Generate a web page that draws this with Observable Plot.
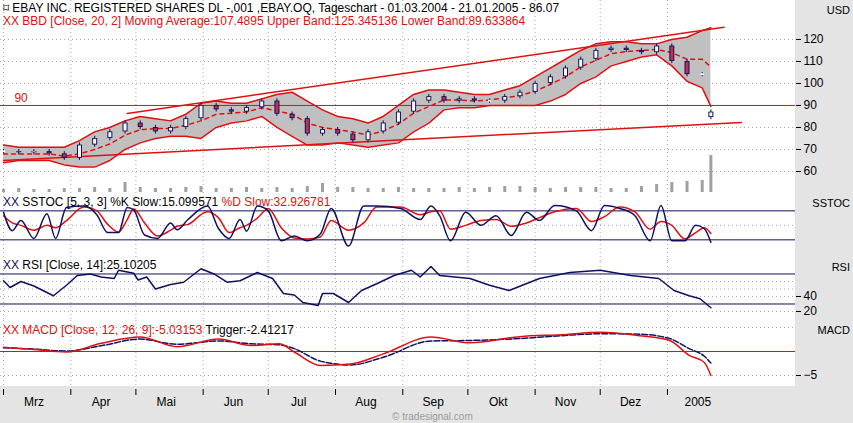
<!DOCTYPE html>
<html><head><meta charset="utf-8">
<script src="https://cdn.jsdelivr.net/npm/d3@7"></script>
<script src="https://cdn.jsdelivr.net/npm/@observablehq/plot@0.6"></script>
<style>
body{margin:0;background:#fff;font-family:"Liberation Sans",Arial,sans-serif;}
#c{position:relative;width:853px;height:423px;overflow:hidden;background:#fff}
.abs{position:absolute}
.t{position:absolute;font-size:12px;white-space:nowrap;line-height:12px}
svg{overflow:visible}
</style></head><body>
<div id="c">
<div class="abs" style="left:795px;top:0;width:58px;height:423px;background:#e4e4e4"></div>
<div class="abs" style="left:0;top:386px;width:853px;height:37px;background:#e4e4e4"></div>
</div>
<script>
// ---- data ----
const priceClose=[69,68.5,69,68,66,72,75,78,82,80,78,80,84,90,88,87,89,92,86,84,77,79,77,74,78,82,87,92,94,92,93,92,92,94,96,100,103,107,111,115,116,115,114,117,110,104,104,87];
const priceOpen=[69,69,68.5,69,68,66,72,75,78,82,80,78,80,84,90,88,87,89,92,86,84,77,79,77,74,78,82,87,92,94,92,93,92,92,94,96,100,103,107,111,115,116,115,114,117,110,104,84.5];
const bandUpper=[72,71,71,71,71,74,78,80,83,85,84,83,86,91,92,91,91,93,95,96,92,88,85,84,82,85,90,95,97,97,96,95,95,97,99,103,107,111,115,118,119,119,118,118,120,121,124,125.3];
const bandLower=[64,65,65,65,63,62,62,65,70,73,75,76,76,75,80,82,83,85,80,76,72,72,73,72,71,72,73,78,82,88,89,89,90,90,90,90,92,95,100,103,108,110,112,113,108,101,98,89.6];
const volume=[3,4,3,3,4,4,5,4,10,5,4,4,5,6,4,4,5,4,5,4,6,9,5,5,4,4,5,4,4,4,5,4,5,6,6,5,4,5,5,5,4,4,6,8,10,11,12,37];
const upperTrendDay=[57,332], upperTrendVal=[86.4,125.5];
const lowerTrendDay=[0,340], lowerTrendVal=[65,82.3];
const stochDay=[0,4,8,14,20,24,29,37,43,48,53,57,60,65,71,77,80,85,94,99,104,109,112,117,122,128,134,140,146,151,159,166,172,183,192,197,201,206,213,220,227,234,241,247,254,264,271,277,284,291,298,303,308,314,319,323,326];
const stochK=[77,39,60,23,74,23,87,90,72,35,35,87,82,30,23,55,41,62,90,44,23,62,38,90,80,18,28,18,32,85,7,90,90,85,62,90,70,18,77,50,70,29,77,60,91,80,39,91,85,70,18,91,18,18,50,43,15];
const stochD=[70,55,50,40,50,45,60,88,80,52,36,62,84,55,28,40,48,52,78,66,35,45,50,65,85,45,24,22,26,60,40,55,88,88,72,78,80,42,50,60,62,48,55,66,78,85,58,68,88,78,42,58,50,22,35,45,33];
const rsiDay=[0,3,8,14,23,29,34,40,45,51,53,60,62,66,70,77,83,91,97,103,109,117,124,129,134,138,145,147,152,159,165,172,180,188,192,197,201,215,224,233,247,261,275,289,302,309,316,321,326];
const rsiVal=[61,52,60,54,41,55,68,70,66,64,75,71,62,66,50,56,59,77,70,59,61,72,64,44,42,32,28,44,44,32,48,57,68,75,66,80,68,64,55,48,64,72,75,68,64,48,41,37,25];
const macdDay=[0,14,29,45,63,80,99,114,127,134,146,160,175,197,215,238,257,275,293,307,316,323,326];
const macdVal=[0.9,0.4,-0.1,1.7,3.0,1.0,2.6,1.25,1.6,-0.1,-2.9,-2.6,-0.5,3.0,1.8,3.1,3.5,4.0,3.3,2.3,-0.8,-2.3,-5.0];
const trigVal=[0.8,0.5,0.1,1.2,2.6,1.5,2.2,1.6,1.4,0.6,-2.0,-2.8,-1.2,2.2,2.3,2.7,3.3,3.7,3.6,2.7,0.6,-1.0,-2.4];
const monthLabels=["Mrz","Apr","Mai","Jun","Jul","Aug","Sep","Okt","Nov","Dez","2005"];
const priceTicks=[60,70,80,90,100,110,120];

// ---- helpers ----
const base=new Date(2004,2,1);
const D=d=>new Date(base.getTime()+d*86400000);
const weekDay=priceClose.map((_,i)=>i<47?i*7:326);
const candles=priceClose.map((c,i)=>({date:D(weekDay[i]),open:priceOpen[i],close:c}));
const bands=bandUpper.map((u,i)=>({date:D(weekDay[i]),u,l:bandLower[i],m:(u+bandLower[i])/2,v:volume[i]}));
const monthStarts=d3.range(11).map(i=>new Date(2004,2+i,1));
const monthMid=d3.range(11).map(i=>new Date(2004,2+i,15));
const xdom=[D(-1.4),D(365)];
const F='"Liberation Sans",Arial,sans-serif';
const c=document.getElementById("c");
function panel(top,height,ydom,marks){
  const p=Plot.plot({width:853,height,marginLeft:0,marginRight:58,marginTop:0,marginBottom:0,
    style:{background:"transparent",fontFamily:F,fontSize:"12px",overflow:"visible"},
    x:{type:"time",domain:xdom,axis:null,label:null},y:{domain:ydom,axis:null,label:null},marks});
  p.style.position="absolute";p.style.left="0px";p.style.top=top+"px";
  c.appendChild(p);
}
const vgrid=Plot.ruleX(monthStarts,{stroke:"#aaa",strokeDasharray:"1,3"});
const raxis=(ticks)=>Plot.axisY({anchor:"right",ticks,tickSize:5,tickPadding:3,fontSize:12,color:"#000",label:null});

// main
panel(0,192,[50.45,137.7],[
  vgrid,
  Plot.ruleY(priceTicks,{stroke:"#aaa",strokeDasharray:"1,3"}),
  Plot.areaY(bands,{x:"date",y1:"l",y2:"u",fill:"#c0c0c0"}),
  Plot.line(bands,{x:"date",y:"u",stroke:"#e01010"}),
  Plot.line(bands,{x:"date",y:"l",stroke:"#e01010"}),
  Plot.line(bands,{x:"date",y:"m",stroke:"#e01010",strokeDasharray:"4,4"}),
  Plot.ruleY([90],{stroke:"#e01010"}),
  Plot.text([90],{x:D(5),y:d=>d,text:d=>String(d),dy:-7,fill:"#e01010",fontSize:12,textAnchor:"start"}),
  Plot.line(upperTrendDay.map((d,i)=>({d:D(d),v:upperTrendVal[i]})),{x:"d",y:"v",stroke:"#e01010"}),
  Plot.line(lowerTrendDay.map((d,i)=>({d:D(d),v:lowerTrendVal[i]})),{x:"d",y:"v",stroke:"#e01010"}),
  Plot.ruleX(candles,{x:"date",y1:d=>Math.min(d.open,d.close)-1,y2:d=>Math.max(d.open,d.close)+1,stroke:"#101060",strokeWidth:1}),
  Plot.ruleX(candles,{x:"date",y1:"open",y2:"close",stroke:"#101060",strokeWidth:5}),
  Plot.ruleX(candles,{x:"date",y1:d=>d.open+(d.close>d.open?0.4:-0.4),y2:d=>d.close+(d.close>d.open?-0.4:0.4),stroke:d=>d.close>=d.open?"#fff":"#c03050",strokeWidth:3}),
  raxis(priceTicks)
]);
// volume
panel(150,42,[0,42],[
  Plot.ruleX(bands,{x:"date",y1:0,y2:"v",stroke:"#a0a0a0",strokeWidth:3})
]);
// sstoc
panel(192,70,[-26.9,118],[
  vgrid,
  Plot.ruleY([50],{stroke:"#aaa",strokeDasharray:"1,3"}),
  Plot.ruleY([20,80],{stroke:"#101060"}),
  Plot.line(stochDay.map((d,i)=>({d:D(d),v:stochD[i]})),{x:"d",y:"v",stroke:"#e01010",curve:"monotone-x"}),
  Plot.line(stochDay.map((d,i)=>({d:D(d),v:stochK[i]})),{x:"d",y:"v",stroke:"#101060",curve:"monotone-x"})
]);
// rsi
panel(262,58,[8,85.3],[
  vgrid,
  Plot.ruleY([20,40,50,60],{stroke:"#aaa",strokeDasharray:"1,3"}),
  Plot.ruleY([30,70],{stroke:"#101060"}),
  Plot.line(rsiDay.map((d,i)=>({d:D(d),v:rsiVal[i]})),{x:"d",y:"v",stroke:"#101060"}),
  raxis([20,40])
]);
// macd
panel(320,66,[-7.29,6.46],[
  vgrid,
  Plot.ruleY([-5,5],{stroke:"#aaa",strokeDasharray:"1,3"}),
  Plot.ruleY([0],{stroke:"#e01010"}),
  Plot.line(macdDay.map((d,i)=>({d:D(d),v:trigVal[i]})),{x:"d",y:"v",stroke:"#101060",strokeDasharray:"6,2",curve:"monotone-x"}),
  Plot.line(macdDay.map((d,i)=>({d:D(d),v:macdVal[i]})),{x:"d",y:"v",stroke:"#e01010",curve:"monotone-x"}),
  raxis([-5])
]);
// bottom axis
panel(386,37,[37,0],[
  Plot.ruleX(monthStarts,{y1:3,y2:9,stroke:"#000"}),
  Plot.text(monthLabels,{x:(d,i)=>monthMid[i],y:16,text:d=>d,fontSize:12,fill:"#000"})
]);
// texts
function T(x,y,html,extra=""){const d=document.createElement("div");d.className="t";d.style.left=x+"px";d.style.top=y+"px";d.style.cssText+=extra;d.innerHTML=html;c.appendChild(d);}
function TR(y,html){const d=document.createElement("div");d.className="t";d.style.right="3px";d.style.top=y+"px";d.style.fontSize="11px";d.innerHTML=html;c.appendChild(d);}
const R='<span style="color:#e01010">',B='<span style="color:#101060">';
T(3,2,'⌑ EBAY INC. REGISTERED SHARES DL -,001 ,EBAY.OQ, Tageschart - 01.03.2004 - 21.01.2005 - 86.07');
T(3,15,R+'XX BBD [Close, 20, 2] Moving Average:107.4895 Upper Band:125.345136 Lower Band:89.633864</span>');
T(3,196,B+'XX</span> SSTOC [5, 3, 3] %K Slow:15.099571 '+R+'%D Slow:32.926781</span>');
T(3,259,B+'XX</span> RSI [Close, 14]:25.10205');
T(3,324,R+'XX MACD [Close, 12, 26, 9]:-5.03153</span> Trigger:-2.41217');
TR(4,'USD');TR(197,'SSTOC');TR(261,'RSI');TR(324,'MACD');
T(392,411,'© tradesignal.com','color:#999;font-size:10px');
</script></body></html>
